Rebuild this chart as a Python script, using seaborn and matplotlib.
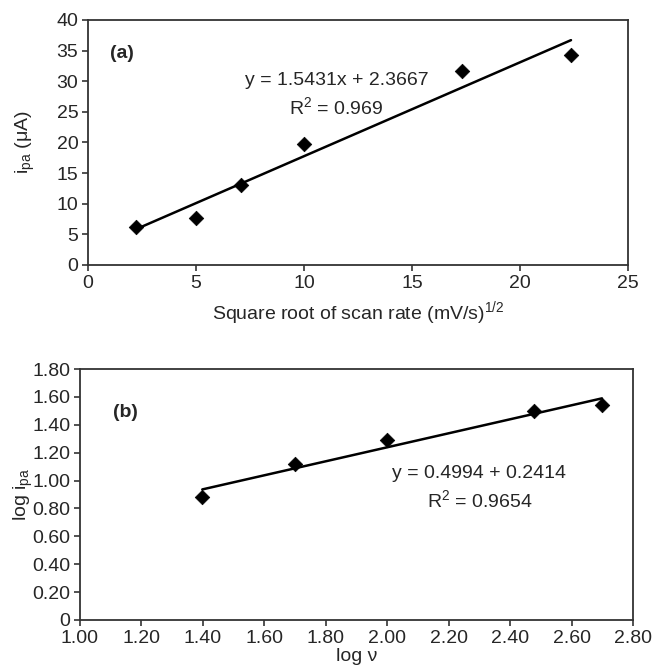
import numpy as np
import pandas as pd
import seaborn as sns
import matplotlib.pyplot as plt
from matplotlib.ticker import FuncFormatter

# (a) peak current vs square root of scan rate
sqrt_rate = [2.236, 5.0, 7.071, 10.0, 17.321, 22.361]
ipa = [6.2, 7.7, 13.1, 19.7, 31.7, 34.3]

# (b) log ipa vs log scan rate
log_rate = [1.398, 1.699, 2.0, 2.477, 2.699]
log_ipa = [0.88, 1.12, 1.29, 1.50, 1.54]

sns.set_style("white")
plt.rcParams['font.family'] = ['Liberation Sans', 'DejaVu Sans']
plt.rcParams['mathtext.fontset'] = 'custom'
plt.rcParams['mathtext.rm'] = 'Liberation Sans'
plt.rcParams['mathtext.it'] = 'Liberation Sans'

FS = 14

fig = plt.figure(figsize=(6.58, 6.70), dpi=100)
ax1 = fig.add_axes([88 / 658, 1 - 265 / 670, 540 / 658, 245 / 670])
ax2 = fig.add_axes([80 / 658, 1 - 620 / 670, 553 / 658, 251 / 670])

df_a = pd.DataFrame({"x": sqrt_rate, "y": ipa})
df_b = pd.DataFrame({"x": log_rate, "y": log_ipa})

for ax, df in [(ax1, df_a), (ax2, df_b)]:
    sns.regplot(data=df, x="x", y="y", ax=ax, ci=None, truncate=True,
                marker="D", color="black",
                scatter_kws={"s": 55, "edgecolor": "black", "linewidths": 0.5, "zorder": 3, "alpha": 1},
                line_kws={"color": "black", "lw": 1.8})
    for s in ax.spines.values():
        s.set_color("#333333")
        s.set_linewidth(1.3)
    ax.tick_params(axis="both", which="major", direction="out", length=4,
                   width=1.2, color="#333333", labelsize=FS, bottom=True, left=True, pad=3)

# panel (a)
ax1.set_xlim(0, 25)
ax1.set_ylim(0, 40)
ax1.set_xticks(np.arange(0, 26, 5))
ax1.set_yticks(np.arange(0, 41, 5))
ax1.set_xlabel("Square root of scan rate (mV/s)$^{1/2}$", fontsize=FS, labelpad=5)
ax1.set_ylabel("i$_{\\mathrm{pa}}$ (μA)", fontsize=FS, labelpad=14)
ax1.text(1.0, 34.5, "(a)", fontsize=FS, fontweight="bold", va="center")
ax1.text(11.5, 30.2, "y = 1.5431x + 2.3667", fontsize=FS, ha="center", va="center")
ax1.text(11.5, 25.8, "R$^2$ = 0.969", fontsize=FS, ha="center", va="center")

# panel (b)
ax2.set_xlim(1.0, 2.8)
ax2.set_ylim(0, 1.8)
ax2.set_xticks(np.arange(1.0, 2.81, 0.2))
ax2.set_yticks(np.arange(0, 1.81, 0.2))
fmt = FuncFormatter(lambda v, p: "0" if abs(v) < 1e-9 else f"{v:.2f}")
ax2.yaxis.set_major_formatter(fmt)
ax2.xaxis.set_major_formatter(FuncFormatter(lambda v, p: f"{v:.2f}"))
ax2.set_xlabel("log ν", fontsize=FS, labelpad=1)
ax2.set_ylabel("log i$_{\\mathrm{pa}}$", fontsize=FS, labelpad=-2)
ax2.text(1.107, 1.485, "(b)", fontsize=FS, fontweight="bold", va="center")
ax2.text(2.30, 1.054, "y = 0.4994 + 0.2414", fontsize=FS, ha="center", va="center")
ax2.text(2.30, 0.86, "R$^2$ = 0.9654", fontsize=FS, ha="center", va="center")

fig.savefig("out.png", dpi=100)
